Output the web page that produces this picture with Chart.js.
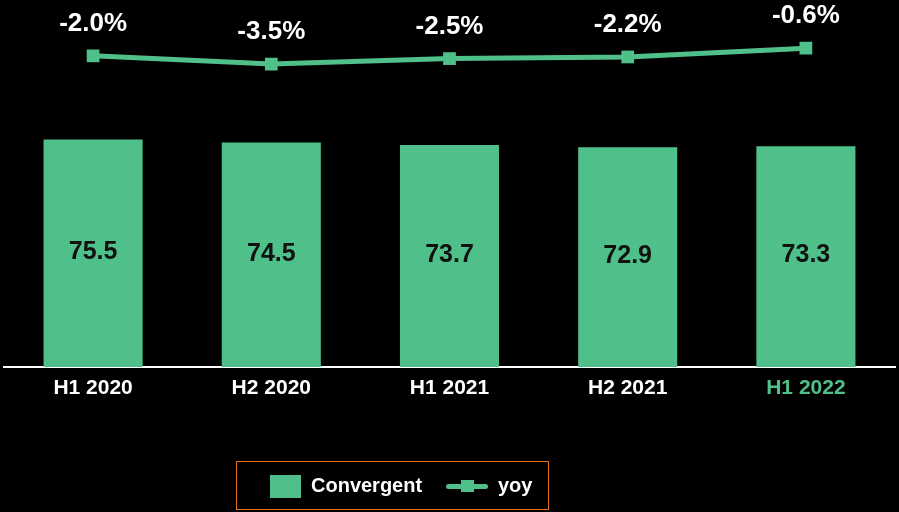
<!DOCTYPE html>
<html lang="en">
<head>
    <meta charset="UTF-8">
    <title>Convergent</title>
    <script src="https://cdn.jsdelivr.net/npm/chart.js"></script>
    <style>
        body {
            background-color: #000;
            margin: 0;
            font-family: "Liberation Sans", Arial, sans-serif;
        }
        .wrap {
            position: relative;
            width: 899px;
            height: 512px;
        }
        .legend {
            position: absolute;
            left: 236px;
            top: 461px;
            width: 311px;
            height: 47px;
            border: 1px solid #e0701c;
            color: #fff;
            font-weight: bold;
            font-size: 20px;
        }
        .legend .box {
            position: absolute;
            left: 33px;
            top: 13px;
            width: 31px;
            height: 23px;
            background: #4fc08a;
        }
        .legend .line {
            position: absolute;
            left: 209px;
            top: 22px;
            width: 42px;
            height: 5px;
            border-radius: 3px;
            background: #4fc08a;
        }
        .legend .line::after {
            content: "";
            position: absolute;
            left: 15px;
            top: -4px;
            width: 13px;
            height: 12px;
            background: #4fc08a;
        }
        .legend span {
            position: absolute;
            top: 12px;
        }
    </style>
</head>
<body>
<div class="wrap">
    <canvas id="chart" width="899" height="512"></canvas>
    <div class="legend">
        <div class="box"></div><span style="left:74px">Convergent</span>
        <div class="line"></div><span style="left:261px">yoy</span>
    </div>
</div>
<script>
const categories = ['H1 2020', 'H2 2020', 'H1 2021', 'H2 2021', 'H1 2022'];
const convergent = [75.5, 74.5, 73.7, 72.9, 73.3];
const yoy = [-2.0, -3.5, -2.5, -2.2, -0.6];

const green = '#4fc08a';
const font = '"Liberation Sans", Arial, sans-serif';

// value labels: inside bars and above line points
const labelPlugin = {
    id: 'labels',
    afterDatasetsDraw(chart) {
        const ctx = chart.ctx;
        ctx.save();
        ctx.textAlign = 'center';
        ctx.textBaseline = 'middle';
        // dataset 1 = bars
        ctx.font = 'bold 25px ' + font;
        chart.getDatasetMeta(1).data.forEach((el, i) => {
            ctx.fillStyle = '#111';
            ctx.fillText(convergent[i].toFixed(1), el.x, (el.y + el.base) / 2 - 1);
        });
        // dataset 0 = yoy line
        ctx.font = 'bold 26px ' + font;
        chart.getDatasetMeta(0).data.forEach((el, i) => {
            ctx.fillStyle = '#fff';
            ctx.fillText(yoy[i].toFixed(1) + '%', el.x, el.y - 32);
        });
        ctx.restore();
    }
};

new Chart(document.getElementById('chart'), {
    data: {
        labels: categories,
        datasets: [
            {
                type: 'line',
                label: 'yoy',
                data: yoy,
                yAxisID: 'y2',
                borderColor: green,
                backgroundColor: green,
                borderWidth: 5,
                pointStyle: 'rect',
                pointRadius: 9,
                pointBorderWidth: 0,
                tension: 0,
                clip: false,
                order: 0
            },
            {
                type: 'bar',
                label: 'Convergent',
                data: convergent,
                yAxisID: 'y',
                backgroundColor: green,
                categoryPercentage: 1,
                barPercentage: 0.556,
                order: 1
            }
        ]
    },
    options: {
        responsive: false,
        animation: false,
        layout: {
            autoPadding: false,
            padding: { left: 4, right: 4, top: 0, bottom: 85 }
        },
        scales: {
            x: {
                grid: { display: false, drawTicks: false },
                border: { display: true, color: '#fff', width: 2 },
                afterFit(scale) { scale.height = 60; },
                ticks: {
                    padding: 9,
                    font: { family: font, size: 21, weight: 'bold' },
                    color: ctx => ctx.index === 4 ? green : '#fff'
                }
            },
            y: {
                display: false,
                min: 0,
                max: 121.8
            },
            y2: {
                display: false,
                min: -58.44,
                max: 8.13
            }
        },
        plugins: {
            legend: { display: false },
            tooltip: { enabled: false }
        }
    },
    plugins: [labelPlugin]
});
</script>
</body>
</html>
